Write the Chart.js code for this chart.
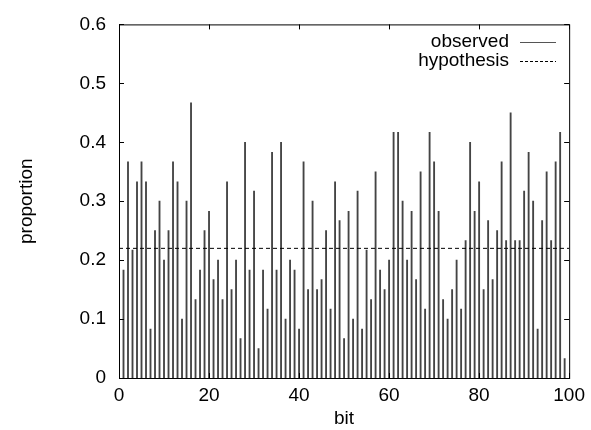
<!DOCTYPE html>
<html>
<head>
<meta charset="utf-8">
<script src="https://cdn.jsdelivr.net/npm/chart.js@4/dist/chart.umd.min.js"></script>
<style>
  html, body { margin: 0; padding: 0; background: #fff; }
  #wrap { width: 591px; height: 430px; }
</style>
</head>
<body>
<div id="wrap"><canvas id="bitChart" width="591" height="430"></canvas></div>
<script>
// observed proportion per bit (bits 1..99)
const firstBit = 1;
const observed = [
  0.183, 0.367, 0.217, 0.333, 0.367, 0.333, 0.083, 0.25, 0.3, 0.2,
  0.25, 0.367, 0.333, 0.1, 0.3, 0.467, 0.133, 0.183, 0.25, 0.283,
  0.167, 0.2, 0.133, 0.333, 0.15, 0.2, 0.067, 0.4, 0.183, 0.317,
  0.05, 0.183, 0.117, 0.383, 0.183, 0.4, 0.1, 0.2, 0.183, 0.083,
  0.367, 0.15, 0.3, 0.15, 0.167, 0.25, 0.117, 0.333, 0.267, 0.067,
  0.283, 0.1, 0.317, 0.083, 0.217, 0.133, 0.35, 0.183, 0.15, 0.2,
  0.417, 0.417, 0.3, 0.2, 0.283, 0.167, 0.35, 0.117, 0.417, 0.367,
  0.283, 0.133, 0.1, 0.15, 0.2, 0.117, 0.233, 0.4, 0.283, 0.333,
  0.15, 0.267, 0.167, 0.25, 0.367, 0.233, 0.45, 0.233, 0.233, 0.317,
  0.383, 0.3, 0.083, 0.267, 0.35, 0.233, 0.367, 0.417, 0.033
];
const hypothesis = 0.22;
const xRange = [0, 100];
const xTicks = [0, 20, 40, 60, 80, 100];
const yTicks = [0, 0.1, 0.2, 0.3, 0.4, 0.5, 0.6];
const yTickLabels = ["0", "0.1", "0.2", "0.3", "0.4", "0.5", "0.6"];

const FONT = "'Liberation Sans', Arial, sans-serif";

// gnuplot-like frame, inward ticks and legend
const framePlugin = {
  id: "frame",
  afterDraw(chart) {
    const { ctx, chartArea: a, scales } = chart;
    ctx.save();
    ctx.strokeStyle = "#000";
    ctx.lineWidth = 1;
    ctx.strokeRect(a.left + 0.5, a.top + 0.5, a.right - a.left, a.bottom - a.top);
    ctx.beginPath();
    yTicks.forEach(v => {
      const y = Math.round(scales.y.getPixelForValue(v)) + 0.5;
      ctx.moveTo(a.left, y); ctx.lineTo(a.left + 5, y);
      ctx.moveTo(a.right, y); ctx.lineTo(a.right - 5, y);
    });
    xTicks.forEach(v => {
      const x = Math.round(scales.x.getPixelForValue(v)) + 0.5;
      ctx.moveTo(x, a.bottom); ctx.lineTo(x, a.bottom - 5);
      ctx.moveTo(x, a.top); ctx.lineTo(x, a.top + 5);
    });
    ctx.stroke();

    // legend
    ctx.font = "19px " + FONT;
    ctx.fillStyle = "#000";
    ctx.textAlign = "right";
    ctx.textBaseline = "middle";
    const rows = [[0, 42], [1, 61]];
    rows.forEach(([i, y]) => {
      const ds = chart.data.datasets[i];
      ctx.fillText(ds.label, 509, y);
      ctx.beginPath();
      ctx.strokeStyle = i === 0 ? "#555" : "#000";
      ctx.setLineDash(i === 0 ? [] : [3, 2]);
      ctx.moveTo(520, y + 0.5); ctx.lineTo(556, y + 0.5);
      ctx.stroke();
    });
    ctx.restore();
  }
};

const ctx = document.getElementById("bitChart").getContext("2d");
new Chart(ctx, {
  type: "bar",
  data: {
    datasets: [
      {
        label: "observed",
        data: observed.map((v, i) => ({ x: firstBit + i, y: v })),
        backgroundColor: "#444",
        borderWidth: 0,
        barThickness: 1.2,
        order: 2
      },
      {
        type: "line",
        label: "hypothesis",
        data: [{ x: xRange[0], y: hypothesis }, { x: xRange[1], y: hypothesis }],
        borderColor: "#000",
        borderWidth: 1,
        borderDash: [4, 3],
        pointRadius: 0,
        fill: false,
        order: 1
      }
    ]
  },
  options: {
    responsive: false,
    animation: false,
    layout: { padding: { left: 0, top: 16, right: 19, bottom: 0 } },
    plugins: {
      legend: { display: false },
      tooltip: { enabled: false }
    },
    scales: {
      x: {
        type: "linear",
        min: xRange[0],
        max: xRange[1],
        offset: false,
        afterFit: s => { s.height = 52; },
        afterBuildTicks: s => { s.ticks = xTicks.map(v => ({ value: v })); },
        grid: { display: false, drawTicks: false },
        border: { display: false },
        ticks: { color: "#000", font: { family: FONT, size: 19 }, padding: 6, maxRotation: 0 },
        title: { display: true, text: "bit", color: "#000", font: { family: FONT, size: 19 }, padding: { top: 0, bottom: 0 } }
      },
      y: {
        min: 0,
        max: 0.6,
        afterFit: s => { s.width = 119; },
        afterBuildTicks: s => { s.ticks = yTicks.map(v => ({ value: v })); },
        grid: { display: false, drawTicks: false },
        border: { display: false },
        ticks: {
          color: "#000",
          font: { family: FONT, size: 19 },
          padding: 13,
          callback: (v, i) => yTickLabels[i]
        },
        title: { display: true, text: "proportion", color: "#000", font: { family: FONT, size: 19 }, padding: { top: 15, bottom: 0 } }
      }
    }
  },
  plugins: [framePlugin]
});
</script>
</body>
</html>
